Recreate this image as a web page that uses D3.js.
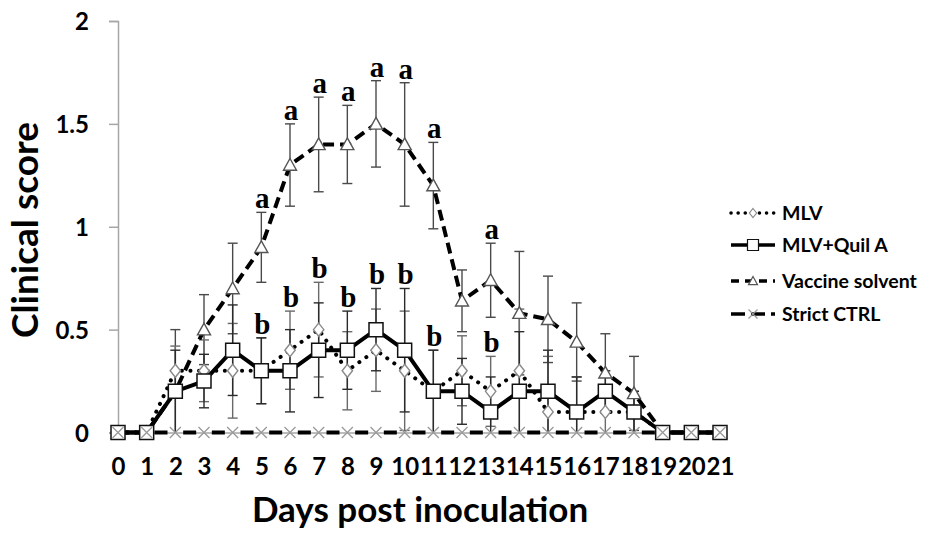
<!DOCTYPE html>
<html>
<head>
<meta charset="utf-8">
<script src="https://cdn.jsdelivr.net/npm/d3@7/dist/d3.min.js"></script>
<style>
  html, body { margin: 0; padding: 0; background: #fff; }
  svg { display: block; }
  text { font-family: Lato, "Open Sans", sans-serif; font-weight: 700; fill: #000; }
  .sig { font-family: "Liberation Serif", "DejaVu Serif", serif; font-weight: 700; }
</style>
</head>
<body>
<svg id="chart" width="929" height="533"></svg>
<script>
// Days after inoculation
const days = [0,1,2,3,4,5,6,7,8,9,10,11,12,13,14,15,16,17,18,19,20,21];

// Mean clinical scores per group
const mlv        = [0,0,0.3,0.3,0.3,0.3,0.4,0.5,0.3,0.4,0.3,0.2,0.3,0.2,0.3,0.1,0.1,0.1,0.1,0,0,0];
const mlvQuil    = [0,0,0.2,0.25,0.4,0.3,0.3,0.4,0.4,0.5,0.4,0.2,0.2,0.1,0.2,0.2,0.1,0.2,0.1,0,0,0];
const vaccineSol = [0,0,0.2,0.5,0.7,0.9,1.3,1.4,1.4,1.5,1.4,1.2,0.64,0.74,0.58,0.55,0.44,0.29,0.19,0,0,0];
const strictCtrl = [0,0,0,0,0,0,0,0,0,0,0,0,0,0,0,0,0,0,0,0,0,0];

// Standard deviations
const mlvSd        = [0,0,0.12,0.15,0.23,0.16,0.19,0.23,0.19,0.2,0.29,0.2,0.17,0.17,0.3,0.27,0.17,0.1,0.1,0,0,0];
const mlvQuilSd    = [0,0,0.2,0.13,0.22,0.16,0.2,0.23,0.19,0.2,0.3,0.2,0.16,0.17,0.29,0.2,0.17,0.1,0.1,0,0,0];
const vaccineSolSd = [0,0,0.3,0.17,0.22,0.17,0.2,0.23,0.19,0.21,0.3,0.21,0.15,0.18,0.3,0.21,0.19,0.19,0.18,0,0,0];

// Days with significant differences (letters above the bars)
const letterADays = [5,6,7,8,9,10,11,13];
const letterBDays = [5,6,7,8,9,10,11,13];

const yTicks = [0, 0.5, 1, 1.5, 2];

const svg = d3.select("#chart");

const x = d3.scaleLinear().domain([0, 21]).range([118, 720]);
const y = d3.scaleLinear().domain([0, 2]).range([432.5, 21]);
const yc = y.copy().clamp(true);

// Axes
const yAxis = svg.append("g").attr("transform", `translate(${x(0)},0)`)
  .call(d3.axisLeft(y).tickValues(yTicks).tickSize(9).tickFormat(d3.format("")));
yAxis.select(".domain").attr("stroke", "#a6a6a6").attr("stroke-width", 1.5);
yAxis.selectAll(".tick line").attr("stroke", "#a6a6a6").attr("stroke-width", 1.5);
yAxis.selectAll(".tick text").attr("x", -29).attr("dy", "0.36em")
  .style("font-size", "24px").style("font-family", "Lato, sans-serif").style("font-weight", 700).attr("fill", "#000");

const xAxis = svg.append("g").attr("transform", `translate(0,${y(0)})`)
  .call(d3.axisBottom(x).tickValues(days).tickSize(0).tickPadding(0).tickFormat(d3.format("d")));
xAxis.select(".domain").attr("stroke", "#a6a6a6").attr("stroke-width", 1.5);
xAxis.selectAll(".tick text").attr("y", 42).attr("dy", "0")
  .style("font-size", "24px").style("font-family", "Lato, sans-serif").style("font-weight", 700).attr("fill", "#000");

// Axis titles
svg.append("text").attr("x", 420).attr("y", 522).attr("text-anchor", "middle")
  .style("font-size", "35px").text("Days post inoculation");
svg.append("text").attr("transform", "translate(38,230) rotate(-90)").attr("text-anchor", "middle")
  .style("font-size", "37px").text("Clinical score");

// Error bars
function errorBars(means, sds, color) {
  const g = svg.append("g").attr("stroke", color).attr("stroke-width", 1.4).attr("fill", "none");
  days.forEach((d, i) => {
    if (sds[i] === 0) return;
    const top = yc(means[i] + sds[i]);
    const bot = yc(means[i] - sds[i]);
    g.append("line").attr("x1", x(d)).attr("x2", x(d)).attr("y1", top).attr("y2", bot);
    g.append("line").attr("x1", x(d) - 5).attr("x2", x(d) + 5).attr("y1", top).attr("y2", top);
    if (means[i] - sds[i] > 0)
      g.append("line").attr("x1", x(d) - 5).attr("x2", x(d) + 5).attr("y1", bot).attr("y2", bot);
  });
}
errorBars(vaccineSol, vaccineSolSd, "#4a4a4a");
errorBars(mlv, mlvSd, "#6a6a6a");
errorBars(mlvQuil, mlvQuilSd, "#2a2a2a");

const line = d3.line().x((v, i) => x(days[i])).y(v => y(v));

// Marker shapes
const sym = {
  diamond: s => `M0,${-s}L${s * 0.8},0L0,${s}L${-s * 0.8},0Z`,
  square: s => `M${-s},${-s}H${s}V${s}H${-s}Z`,
  triangle: s => `M0,${-s}L${s},${s * 0.8}H${-s}Z`,
  cross: s => `M${-s},${-s}L${s},${s}M${s},${-s}L${-s},${s}`
};

// Drawing order: MLV, Vaccine solvent, MLV+Quil A, Strict CTRL on top
const series = [
  { name: "MLV", vals: mlv, dash: "0.1 8.5", legendDash: "0.1 7", cap: "round", w: 4, shape: "diamond", ms: 6.5, lms: 4.5, mstroke: "#8a8a8a", mw: 1.4, fill: "#fff" },
  { name: "Vaccine solvent", vals: vaccineSol, dash: "11 6", legendDash: "8 6", cap: "butt", w: 4, shape: "triangle", ms: 6.5, lms: 4.5, mstroke: "#555", mw: 1.4, fill: "#fff" },
  { name: "MLV+Quil A", vals: mlvQuil, dash: null, legendDash: null, cap: "butt", w: 4, shape: "square", ms: 7, lms: 5.5, mstroke: "#111", mw: 1.5, fill: "#fff" },
  { name: "Strict CTRL", vals: strictCtrl, dash: "13 15.667", legendDash: "14 6", offset: 20.83, cap: "butt", w: 4, shape: "cross", ms: 5.5, lms: 4.5, mstroke: "#9a9a9a", mw: 1.3, fill: "none" }
];

series.forEach(s => {
  svg.append("path").datum(s.vals).attr("d", line)
    .attr("fill", "none").attr("stroke", "#000").attr("stroke-width", s.w)
    .attr("stroke-linecap", s.cap).attr("stroke-linejoin", "round")
    .attr("stroke-dasharray", s.dash).attr("stroke-dashoffset", s.offset || 0);
  svg.append("g").selectAll("path").data(s.vals).join("path")
    .attr("transform", (v, i) => `translate(${x(days[i])},${y(v)})`)
    .attr("d", sym[s.shape](s.ms))
    .attr("fill", s.fill).attr("stroke", s.mstroke).attr("stroke-width", s.mw);
});

// Significance letters
letterADays.forEach(d => {
  const i = days.indexOf(d);
  svg.append("text").attr("class", "sig").attr("x", x(d) + 1).attr("y", y(vaccineSol[i] + vaccineSolSd[i]) - 4)
    .attr("text-anchor", "middle").style("font-size", "29px").text("a");
});
letterBDays.forEach(d => {
  const i = days.indexOf(d);
  const top = Math.max(mlv[i] + mlvSd[i], mlvQuil[i] + mlvQuilSd[i]);
  svg.append("text").attr("class", "sig").attr("x", x(d) + 1).attr("y", y(top) - 4)
    .attr("text-anchor", "middle").style("font-size", "29px").text("b");
});

// Legend
const legendNames = ["MLV", "MLV+Quil A", "Vaccine solvent", "Strict CTRL"];
const legendRows = [213, 245, 281, 314];
const legend = svg.append("g");
legendNames.forEach((name, k) => {
  const s = series.find(e => e.name === name);
  const ly = legendRows[k];
  legend.append("line").attr("x1", 731).attr("x2", 775).attr("y1", ly).attr("y2", ly)
    .attr("stroke", "#000").attr("stroke-width", 3.5).attr("stroke-linecap", s.cap)
    .attr("stroke-dasharray", s.legendDash);
  legend.append("path").attr("transform", `translate(753,${ly})`)
    .attr("d", sym[s.shape](s.lms))
    .attr("fill", s.fill === "none" ? "none" : "#fff").attr("stroke", s.mstroke).attr("stroke-width", 1.2);
  legend.append("text").attr("x", 782).attr("y", ly).attr("dy", "0.36em")
    .style("font-size", "19.5px").text(name);
});
</script>
</body>
</html>
